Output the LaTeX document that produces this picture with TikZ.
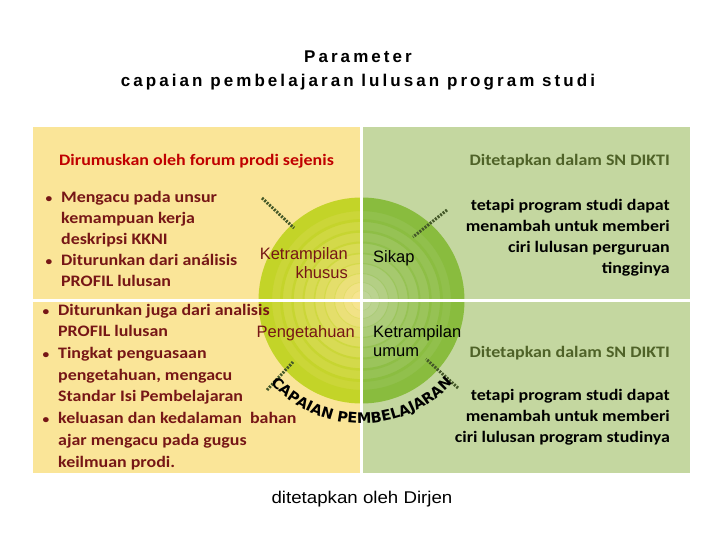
\documentclass[tikz,border=0pt]{standalone}
\usepackage{fontspec}
\setmainfont{Carlito}
\usetikzlibrary{decorations.text,calc}
\newfontfamily\bodyfont[FakeStretch=1.12]{Carlito}
\newfontfamily\lblfont{Liberation Sans}
\newfontfamily\dirfont[FakeStretch=1.1]{Liberation Sans}
\newfontfamily\ttlfont[LetterSpace=18]{Liberation Sans Bold}
\newfontfamily\arcfont{DejaVu Sans}
\definecolor{panelY}{RGB}{250,229,152}
\definecolor{panelG}{RGB}{196,215,160}
\definecolor{ringY}{RGB}{195,212,40}
\definecolor{ringG}{RGB}{137,188,62}
\definecolor{maroon}{RGB}{118,22,22}
\definecolor{headred}{RGB}{192,0,0}
\definecolor{headgreen}{RGB}{79,98,40}
\definecolor{dotgreen}{RGB}{68,88,40}
\newcommand\mybul{\makebox[0pt][r]{{\fontsize{12}{12}\selectfont\textbullet}\hspace{9pt}}}
\begin{document}
\begin{tikzpicture}[x=1pt,y=1pt,
  body/.style={font=\bodyfont\bfseries\fontsize{16}{21}\selectfont, inner sep=0pt},
  lbl/.style={font=\lblfont\fontsize{16.5}{18.5}\selectfont, inner sep=0pt},
  dotline/.style={draw=dotgreen, line width=3pt, dash pattern=on 2pt off 1.3pt}]
\useasboundingbox (0,0) rectangle (720,-540);
\fill[white] (0,0) rectangle (720,-540);
% panels
\fill[panelY] (33,-127) rectangle (362,-473);
\fill[panelG] (362,-127) rectangle (690,-473);
\coordinate (C) at (361.5,-300.5);
% left half of the target
\begin{scope}
\clip (240,-180) rectangle (361.5,-420);
\fill[ringY] (C) circle (103);
\foreach \r/\p/\q/\w in {91/86/100/3.2, 80/78/97/2.8, 69/70/92/2.4, 58/61/86/2.0, 47/51/78/1.6, 37/40/68/1.2, 27/28/56/0.9, 18/16/42/0.7, 10/7/30/0.5}{
  \fill[ringY!\p!panelY] (C) circle (\r);
  \draw[ringY!\q!panelY, line width=\w pt] (C) circle (\r);
}
\end{scope}
% right half of the target
\begin{scope}
\clip (361.5,-180) rectangle (480,-420);
\fill[ringG] (C) circle (103);
\foreach \r/\p/\q/\w in {91/86/100/3.2, 80/78/97/2.8, 69/70/92/2.4, 58/61/86/2.0, 47/51/78/1.6, 37/40/68/1.2, 27/28/56/0.9, 18/16/42/0.7, 10/7/30/0.5}{
  \fill[ringG!\p!panelG] (C) circle (\r);
  \draw[ringG!\q!panelG, line width=\w pt] (C) circle (\r);
}
\end{scope}
% white separating cross
\draw[white, line width=3pt] (361.5,-125) -- (361.5,-475);
\draw[white, line width=3pt] (31,-300.5) -- (692,-300.5);
% dotted pointers
\coordinate (d1a) at (262,-198); \coordinate (d1b) at (294,-228);
\coordinate (d2a) at (447,-210); \coordinate (d2b) at (413,-237);
\coordinate (d3a) at (267,-390); \coordinate (d3b) at (293,-362);
\coordinate (d4a) at (458,-388); \coordinate (d4b) at (426,-359);
\draw[dotline] (d1a) -- (d1b);
\draw[dotline] (d2a) -- (d2b);
\draw[dotline] (d3a) -- (d3b);
\draw[dotline] (d4a) -- (d4b);
% arc text
\path[decorate, decoration={text along path, text align=center,
  text={|\arcfont\bfseries\fontsize{14.5}{14.5}\selectfont|CAPAIAN PEMBELAJARAN}}]
  ($(C)+(200:123)$) arc[start angle=200, end angle=340, radius=123];
% title
\node[font=\ttlfont\fontsize{17}{20}\selectfont, inner sep=0pt, anchor=base] (t1) at (358,-63) {Parameter};
\node[font=\ttlfont\fontsize{17}{20}\selectfont, inner sep=0pt, anchor=base] (t2) at (358,-87) {capaian pembelajaran lulusan program studi};
% headings
\node[body, text=headred, anchor=base west] (h1) at (59,-166) {Dirumuskan oleh forum prodi sejenis};
\node[body, text=headgreen, anchor=base east] (h2) at (670,-166) {Ditetapkan dalam SN DIKTI};
\node[body, text=headgreen, anchor=base east] (h3) at (670,-357) {Ditetapkan dalam SN DIKTI};
% left blocks (base anchor = baseline of the last line)
\node[body, text=maroon, anchor=base west, align=left] (tl) at (61,-286)
  {\mybul Mengacu pada unsur\\kemampuan kerja\\deskripsi KKNI\\\mybul Diturunkan dari análisis\\PROFIL lulusan};
\node[body, text=maroon, anchor=base west, align=left, font=\bodyfont\bfseries\fontsize{16}{21.7}\selectfont] (bl) at (58,-467)
  {\mybul Diturunkan juga dari analisis\\PROFIL lulusan\\\mybul Tingkat penguasaan\\pengetahuan, mengacu\\Standar Isi Pembelajaran\\\mybul keluasan dan kedalaman \ bahan\\ajar mengacu pada gugus\\keilmuan prodi.};
% right blocks
\node[body, text=black, anchor=base east, align=right] (tr) at (670,-273)
  {tetapi program studi dapat\\menambah untuk memberi\\ciri lulusan perguruan\\tingginya};
\node[body, text=black, anchor=base east, align=right] (br) at (670,-442)
  {tetapi program studi dapat\\menambah untuk memberi\\ciri lulusan program studinya};
% quadrant labels
\node[lbl, text=maroon, anchor=base east, align=right] (kk) at (348,-278) {Ketrampilan\\khusus};
\node[lbl, text=black, anchor=base west] (sk) at (373,-262) {Sikap};
\node[lbl, text=maroon, anchor=base east] (pg) at (355,-337) {Pengetahuan};
\node[lbl, text=black, anchor=base west, align=left, font=\lblfont\fontsize{16.5}{19}\selectfont] (ku) at (373,-356) {Ketrampilan\\umum};
% bottom
\node[font=\dirfont\fontsize{17}{20}\selectfont, inner sep=0pt, anchor=base] (dj) at (362,-503) {ditetapkan oleh Dirjen};
\end{tikzpicture}
\end{document}
